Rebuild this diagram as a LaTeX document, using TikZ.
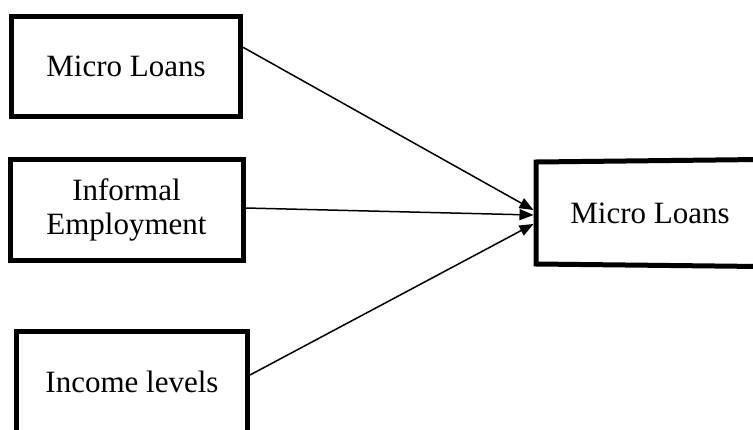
\documentclass[tikz,border=0pt]{standalone}
\usepackage{fontspec}
\setmainfont{Liberation Serif}
\usetikzlibrary{arrows.meta}
\begin{document}
\begin{tikzpicture}[x=1pt,y=-1pt,
  box/.style={draw=black,line width=5pt,rectangle,inner sep=0pt,align=center,
    font=\fontsize{31}{34}\selectfont},
  openbox/.style={box,draw=none},
  edge/.style={line width=5pt,line cap=rect},
  conn/.style={line width=1.5pt,-{Triangle[length=14pt,width=11pt]}}]
\useasboundingbox (0,0) rectangle (753,429);
\node[box,minimum width=229pt,minimum height=100.5pt] (b1) at (126,66.25) {Micro Loans};
\node[box,minimum width=233pt,minimum height=101pt] (b2) at (126.5,210) {Informal\\Employment};
\node[box,minimum width=231pt,minimum height=101pt] (b3) at (132,381.5) {Income levels};
\node[openbox,minimum width=228pt,minimum height=102pt] (b4) at (650,213) {Micro Loans};
\coordinate (b4tr) at (b4.north east -| 760,0);
\coordinate (b4br) at (b4.south east -| 760,0);
\draw[edge] (b4tr) -- ([shift={(2.5pt,-2.5pt)}]b4.north west) -- ([shift={(2.5pt,2.5pt)}]b4.south west) -- (b4br);
\draw[conn] ([yshift=19pt]b1.east) -- ([yshift=3pt]b4.west);
\draw[conn] ([yshift=2pt]b2.east) -- ([yshift=-2pt]b4.west);
\draw[conn] ([yshift=6.5pt]b3.east) -- ([yshift=-11pt]b4.west);
\end{tikzpicture}
\end{document}
